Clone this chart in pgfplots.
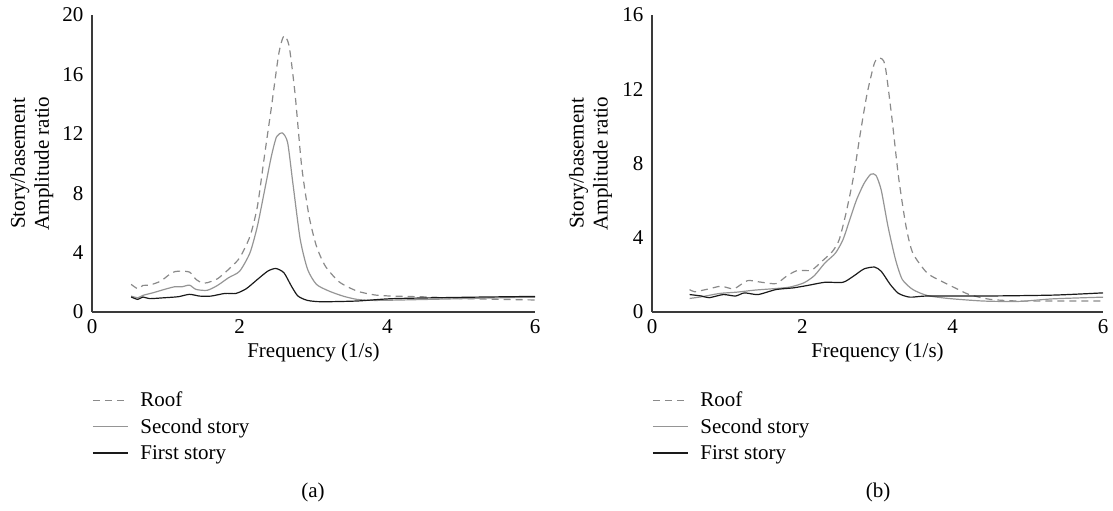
\documentclass[border=0pt]{standalone}
\usepackage{fontspec}
\setmainfont{Liberation Serif}
\usepackage{pgfplots}
\pgfplotsset{compat=1.18}
\definecolor{roofc}{HTML}{8A8A8A}
\definecolor{secc}{HTML}{959595}
\definecolor{firstc}{HTML}{1A1A1A}
\definecolor{axc}{HTML}{3A3A3A}
\newcommand{\bigf}{\fontsize{21}{24}\selectfont}
\pgfplotsset{
 myax/.style={
  scale only axis, width=443pt, height=297pt,
  axis lines=left, axis line style={axc, line width=1.1pt, -},
  xmin=0, xmax=6, ymin=0,
  xtick={0,2,4,6},
  major tick length=0pt,
  tick label style={font=\bigf},
  /pgf/number format/assume math mode=true,
  xticklabel style={yshift=-4pt},
  yticklabel style={xshift=-5pt},
  label style={font=\bigf},
  xlabel={Frequency (1/s)},
  xlabel style={at={(axis description cs:0.5,-0.135)}, anchor=center},
  ylabel={Story/basement\\Amplitude ratio},
  ylabel style={at={(axis description cs:-0.136,0.5)}, anchor=center, align=center},
  legend style={draw=none, fill=none, at={(axis description cs:0.0,-0.262)}, anchor=north west, font=\bigf, row sep=6.5pt, column sep=10pt, inner sep=0pt},
  legend cell align=left,
  legend image code/.code={\draw[#1] (0pt,0pt) -- (35pt,0pt);},
  every axis plot/.append style={line width=1.2pt, smooth, tension=0.4},
 },
 roofs/.style={roofc, dash pattern=on 7pt off 5pt},
 secs/.style={secc},
 firsts/.style={firstc},
}
\begin{document}
\begin{tikzpicture}
\useasboundingbox (0,0) rectangle (1113pt,511pt);
\begin{axis}[myax, at={(92pt,199pt)}, anchor=south west, ymax=20, ytick={0,4,8,12,16,20}]
\addplot[roofs] coordinates {(0.53,1.86)(0.62,1.57)(0.69,1.79)(0.78,1.81)(0.93,2.08)(1.08,2.64)(1.17,2.75)(1.32,2.69)(1.41,2.19)(1.49,1.97)(1.56,1.97)(1.70,2.24)(1.85,2.87)(2.00,3.65)(2.14,5.1)(2.24,7.1)(2.33,10.3)(2.43,13.8)(2.53,17.4)(2.60,18.6)(2.67,17.9)(2.75,14.7)(2.84,9.8)(2.94,6.45)(3.04,4.43)(3.16,3.09)(3.35,2.02)(3.59,1.41)(3.84,1.14)(4.08,1.07)(4.56,1.01)(5.05,0.90)(5.53,0.85)(6.0,0.81)};
\addlegendentry{Roof}
\addplot[secs] coordinates {(0.53,1.07)(0.62,0.96)(0.69,1.12)(0.83,1.30)(0.98,1.52)(1.12,1.70)(1.22,1.70)(1.32,1.81)(1.41,1.52)(1.56,1.46)(1.70,1.79)(1.85,2.31)(2.00,2.75)(2.14,3.99)(2.24,5.78)(2.33,8.0)(2.43,10.5)(2.50,11.8)(2.58,12.05)(2.65,11.4)(2.72,8.7)(2.82,4.9)(2.92,2.87)(3.04,1.86)(3.21,1.41)(3.40,1.07)(3.59,0.85)(3.84,0.78)(4.56,0.85)(5.3,0.93)(6.0,1.0)};
\addlegendentry{Second story}
\addplot[firsts] coordinates {(0.53,1.01)(0.62,0.85)(0.69,1.01)(0.78,0.90)(0.98,0.96)(1.17,1.03)(1.32,1.19)(1.46,1.07)(1.61,1.07)(1.80,1.25)(1.95,1.25)(2.09,1.57)(2.24,2.19)(2.38,2.75)(2.49,2.93)(2.60,2.64)(2.70,1.75)(2.79,1.07)(2.92,0.78)(3.11,0.69)(3.59,0.74)(4.08,0.90)(5.05,0.99)(6.0,1.05)};
\addlegendentry{First story}
\end{axis}
\begin{axis}[myax, at={(652pt,199pt)}, anchor=south west, width=451pt, ymax=16, ytick={0,4,8,12,16}]
\addplot[roofs] coordinates {(0.50,1.21)(0.57,1.09)(0.76,1.25)(0.92,1.39)(1.09,1.25)(1.27,1.69)(1.46,1.60)(1.65,1.53)(1.79,1.93)(1.93,2.23)(2.12,2.25)(2.26,2.73)(2.40,3.26)(2.49,3.89)(2.58,5.31)(2.68,7.27)(2.77,9.59)(2.86,11.73)(2.96,13.42)(3.03,13.69)(3.10,13.3)(3.19,10.5)(3.28,7.27)(3.38,4.6)(3.47,3.17)(3.66,2.10)(3.85,1.66)(4.03,1.30)(4.22,0.94)(4.50,0.68)(4.88,0.59)(5.34,0.59)(6.0,0.59)};
\addlegendentry{Roof}
\addplot[secs] coordinates {(0.50,0.73)(0.66,0.82)(0.90,1.0)(1.13,1.07)(1.37,1.18)(1.60,1.25)(1.83,1.34)(2.02,1.57)(2.16,1.96)(2.30,2.64)(2.44,3.17)(2.54,3.89)(2.63,4.96)(2.72,6.03)(2.82,6.92)(2.91,7.42)(2.98,7.36)(3.05,6.56)(3.14,4.60)(3.24,2.82)(3.33,1.75)(3.47,1.21)(3.66,0.89)(3.94,0.73)(4.41,0.59)(4.88,0.57)(5.34,0.71)(6.0,0.80)};
\addlegendentry{Second story}
\addplot[firsts] coordinates {(0.50,0.94)(0.66,0.86)(0.76,0.77)(0.95,0.94)(1.11,0.86)(1.23,1.03)(1.41,0.94)(1.65,1.21)(1.88,1.30)(2.07,1.43)(2.30,1.60)(2.54,1.60)(2.68,1.93)(2.82,2.32)(2.96,2.42)(3.05,2.19)(3.17,1.48)(3.28,1.00)(3.43,0.80)(3.66,0.86)(4.41,0.86)(5.34,0.91)(6.0,1.03)};
\addlegendentry{First story}
\end{axis}
\node[font=\bigf] at (313pt,19pt) {(a)};
\node[font=\bigf] at (878pt,19pt) {(b)};
\end{tikzpicture}
\end{document}
